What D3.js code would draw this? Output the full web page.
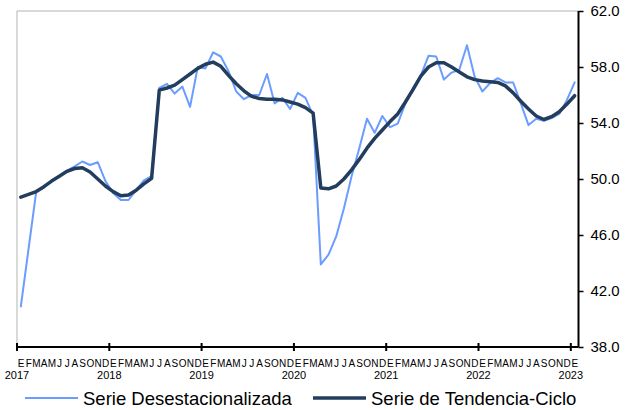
<!DOCTYPE html>
<html>
<head>
<meta charset="utf-8">
<script src="https://cdn.jsdelivr.net/npm/d3@7"></script>
<style>
  body { margin: 0; background: #fff; }
  svg { font-family: Arial, "Liberation Sans", sans-serif; }
</style>
</head>
<body>
<svg id="canvas" width="634" height="410"></svg>
<script>
// meses (ene 2017 - ene 2023)
let monthLetters = ['E', 'F', 'M', 'A', 'M', 'J', 'J', 'A', 'S', 'O', 'N', 'D']
let years = ['2017', '2018', '2019', '2020', '2021', '2022', '2023']
let yTicks = [38, 42, 46, 50, 54, 58, 62]

let desestacionalizada = [
    40.9, 45.0, 49.1, 49.4, 49.9, 50.2, 50.6, 50.9, 51.25, 51.0, 51.2, 49.85,
    49.0, 48.5, 48.5, 49.2, 49.9, 50.2, 56.5, 56.8, 56.1, 56.6, 55.15, 58.0,
    57.9, 59.05, 58.75, 57.7, 56.25, 55.7, 56.0, 56.0, 57.5, 55.4, 55.8, 55.0,
    56.15, 55.8, 54.55, 43.9, 44.6, 45.9, 47.9, 50.2, 52.2, 54.3, 53.3, 54.5,
    53.7, 53.95, 55.4, 56.5, 57.4, 58.8, 58.75, 57.1, 57.6, 57.8, 59.55, 57.3,
    56.25, 56.85, 57.2, 56.9, 56.9, 55.4, 53.85, 54.3, 54.15, 54.35, 54.65, 55.65,
    56.9
]

let tendencia = [
    48.7, 48.9, 49.1, 49.45, 49.85, 50.2, 50.55, 50.75, 50.8, 50.5, 50.0, 49.5,
    49.1, 48.8, 48.85, 49.2, 49.65, 50.05, 56.35, 56.5, 56.7, 57.1, 57.5, 57.9,
    58.2, 58.35, 58.05, 57.4, 56.8, 56.3, 55.9, 55.75, 55.7, 55.7, 55.65, 55.5,
    55.35, 55.1, 54.7, 49.35, 49.3, 49.5, 50.0, 50.65, 51.4, 52.2, 52.9, 53.5,
    54.1, 54.65, 55.5, 56.4, 57.35, 58.0, 58.3, 58.3, 58.0, 57.65, 57.3, 57.1,
    57.0, 56.95, 56.9, 56.65, 56.15, 55.55, 55.0, 54.5, 54.25, 54.45, 54.8, 55.35,
    55.95
]

let plotLeft = 17
let plotRight = 578.5
let plotTop = 11
let plotBottom = 347

let canvas = d3.select('#canvas')

let idx = d3.range(desestacionalizada.length)

let xScale = d3.scaleBand()
               .domain(idx)
               .range([plotLeft, plotRight])
let xMid = (i) => xScale(i) + xScale.bandwidth() / 2

let yScale = d3.scaleLinear()
               .domain([38, 62])
               .range([plotBottom, plotTop])

// borde gris del area (izquierda y arriba)
canvas.append('path')
      .attr('d', 'M' + plotLeft + ',' + plotBottom + 'V' + plotTop + 'H' + plotRight)
      .attr('fill', 'none')
      .attr('stroke', '#b3b3b3')
      .attr('stroke-width', 1)

let drawLine = (values, color, width) => {
    let line = d3.line()
                 .x((d, i) => xMid(i))
                 .y((d) => yScale(d))
    canvas.append('path')
          .datum(values)
          .attr('d', line)
          .attr('fill', 'none')
          .attr('stroke', color)
          .attr('stroke-width', width)
          .attr('stroke-linejoin', 'round')
          .attr('stroke-linecap', 'round')
}

drawLine(desestacionalizada, '#6b9cff', 2)
drawLine(tendencia, '#233d5e', 3.5)

// eje y a la derecha
let yAxis = d3.axisRight(yScale)
              .tickValues(yTicks)
              .tickSize(5)
              .tickPadding(7)
              .tickFormat(d3.format('.1f'))

let yG = canvas.append('g')
               .attr('transform', 'translate(' + plotRight + ',0)')
               .call(yAxis)
yG.select('.domain').attr('stroke', '#000').attr('stroke-width', 2)
  .attr('d', 'M0,' + plotTop + 'V' + plotBottom)
yG.selectAll('.tick line').attr('stroke', '#000').attr('stroke-width', 1.5)
yG.selectAll('.tick text')
  .attr('fill', '#000')
  .style('font-size', '15px')
  .style('font-family', 'Arial, "Liberation Sans", sans-serif')

// eje x: letras de los meses
let xAxis = d3.axisBottom(xScale)
              .tickSize(0)
              .tickPadding(13)
              .tickFormat((i) => monthLetters[i % 12])

let xG = canvas.append('g')
               .attr('transform', 'translate(0,' + plotBottom + ')')
               .call(xAxis)
xG.select('.domain').attr('stroke', '#000').attr('stroke-width', 2)
  .attr('d', 'M' + plotLeft + ',0H' + plotRight)
xG.selectAll('.tick text')
  .attr('fill', '#000')
  .style('font-size', '10px')
  .style('letter-spacing', '-0.5px')
  .style('font-family', 'Arial, "Liberation Sans", sans-serif')

// marcas y etiquetas de los años
let yearIdx = idx.filter((i) => i % 12 === 0)

canvas.selectAll('.year-tick')
      .data(yearIdx)
      .enter()
      .append('line')
      .attr('class', 'year-tick')
      .attr('x1', (i) => xScale(i))
      .attr('x2', (i) => xScale(i))
      .attr('y1', plotBottom - 4)
      .attr('y2', plotBottom + 4)
      .attr('stroke', '#000')
      .attr('stroke-width', 2)

canvas.selectAll('.year-label')
      .data(yearIdx)
      .enter()
      .append('text')
      .attr('class', 'year-label')
      .attr('x', (i) => xScale(i))
      .attr('y', 379)
      .attr('text-anchor', 'middle')
      .style('font-size', '11px')
      .text((i) => years[i / 12])

// leyenda
let legendItems = [
    { name: 'Serie Desestacionalizada', color: '#6b9cff', width: 2, x: 25 },
    { name: 'Serie de Tendencia-Ciclo', color: '#233d5e', width: 3.5, x: 313 }
]

let legend = canvas.selectAll('.legend')
                   .data(legendItems)
                   .enter()
                   .append('g')
                   .attr('class', 'legend')
                   .attr('transform', (d) => 'translate(' + d.x + ',398)')

legend.append('line')
      .attr('x1', 0)
      .attr('x2', 53)
      .attr('y1', 0)
      .attr('y2', 0)
      .attr('stroke', (d) => d.color)
      .attr('stroke-width', (d) => d.width)

legend.append('text')
      .attr('x', 58)
      .attr('y', 6.5)
      .style('font-size', '18.5px')
      .attr('fill', '#000')
      .text((d) => d.name)
</script>
</body>
</html>
